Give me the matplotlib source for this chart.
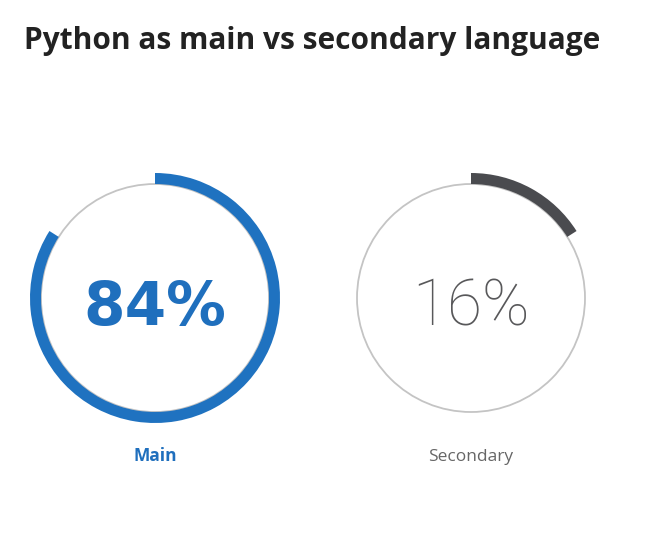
import matplotlib.pyplot as plt
from matplotlib.patches import Wedge, Circle

# data
title = "Python as main vs secondary language"
labels = ["Main", "Secondary"]
shares = [84, 16]                     # percent
arc_colors = ["#1f72c0", "#4a4b4f"]
value_colors = ["#1f6fbd", "#58585a"]
label_colors = ["#1f6fbd", "#666666"]
value_fonts = [("DejaVu Sans", "bold", 43), ("Roboto", "light", 46)]
label_weights = ["bold", "normal"]

W, H = 650, 548
centers = [(155, 298), (471, 298)]   # pixel layout
r_in, ring = 114, 11

fig = plt.figure(figsize=(W / 100, H / 100), dpi=100)
ax = fig.add_axes([0, 0, 1, 1])
ax.set_xlim(0, W)
ax.set_ylim(H, 0)   # pixel-like coords, y down
ax.axis("off")

fig.text(24 / W, 1 - 49.5 / H, title, fontsize=21.5, fontweight="bold",
         family="Open Sans", color="#222222", va="baseline", ha="left")

for (cx, cy), lab, p, ac, vc, lc, vf, lw in zip(centers, labels, shares, arc_colors,
                                                value_colors, label_colors,
                                                value_fonts, label_weights):
    # thin background ring
    ax.add_patch(Circle((cx, cy), r_in, fill=False, ec="#c4c4c4", lw=1.3))
    # progress arc, clockwise from the top (y axis is inverted)
    ax.add_patch(Wedge((cx, cy), r_in + ring, -90, -90 + 360 * p / 100,
                       width=ring, fc=ac, ec="none"))
    ax.text(cx, cy + 27, f"{p}%", fontsize=vf[2], fontweight=vf[1], family=vf[0],
            color=vc, ha="center", va="baseline")
    ax.text(cx, cy + 163, lab, fontsize=12.5, fontweight=lw, family="Open Sans",
            color=lc, ha="center", va="baseline")

fig.savefig("out.png", dpi=100, facecolor="white")
